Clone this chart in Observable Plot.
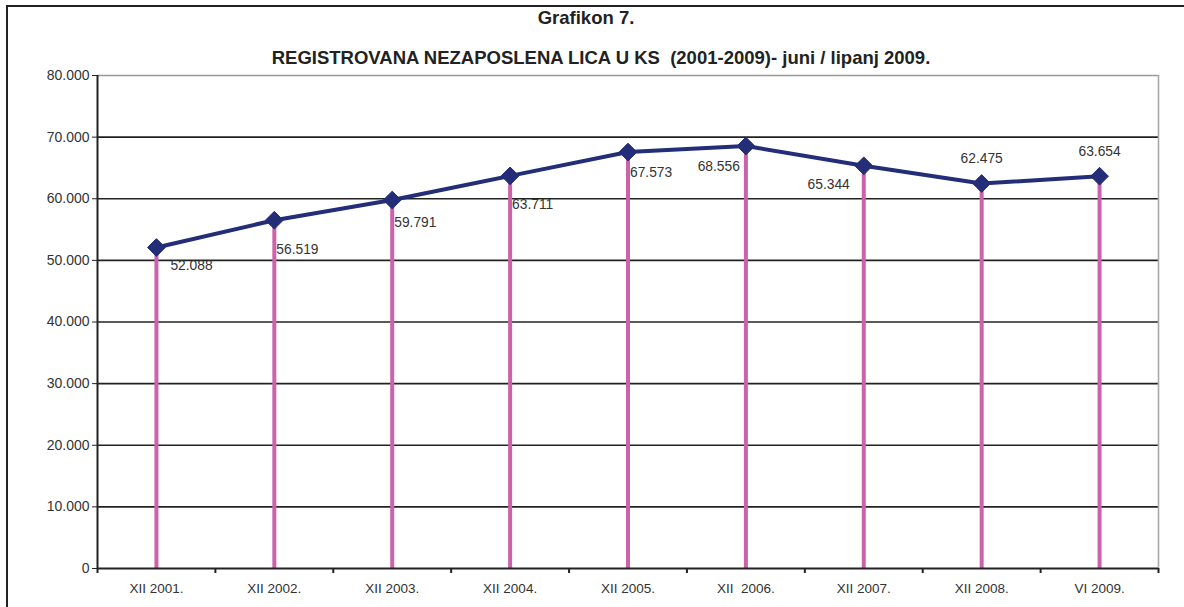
<!DOCTYPE html>
<html><head><meta charset="utf-8">
<script src="https://cdn.jsdelivr.net/npm/d3@7"></script>
<script src="https://cdn.jsdelivr.net/npm/@observablehq/plot@0.6"></script>
<style>
html,body{margin:0;padding:0;background:#fff;}
#wrap{position:relative;width:1184px;height:607px;overflow:hidden;font-family:"Liberation Sans",Arial,sans-serif;}
#frame{position:absolute;left:6px;top:5px;width:1200px;height:700px;border:2px solid #222;box-sizing:border-box;}
.t{position:absolute;width:1184px;text-align:center;font-weight:bold;font-size:18.5px;color:#222;}
#chart{position:absolute;left:0;top:0;}
</style></head>
<body>
<div id="wrap">
<div id="frame"></div>
<div class="t" style="top:7px;left:-6px">Grafikon 7.</div>
<div class="t" style="top:47px;left:9px">REGISTROVANA NEZAPOSLENA LICA U KS&nbsp; (2001-2009)- juni / lipanj 2009.</div>
<div id="chart"></div>
</div>
<script>
const categories = ["XII 2001.","XII 2002.","XII 2003.","XII 2004.","XII 2005.","XII  2006.","XII 2007.","XII 2008.","VI 2009."];
const values = [52088, 56519, 59791, 63711, 67573, 68556, 65344, 62475, 63654];
const yTicks = [0,10000,20000,30000,40000,50000,60000,70000,80000];

const data = categories.map((c,i)=>({i, c, v: values[i]}));
const fmt = v => v === 0 ? "0" : d3.format(",")(v).replace(/,/g, ".");
const idx = categories.map((_,i)=>i);
const bounds = d3.range(categories.length + 1).map(i => i - 0.5);

const labelGroups = [
  {ids:[0], dx:14, dy:18, anchor:"start"},
  {ids:[1,3], dx:2, dy:29, anchor:"start"},
  {ids:[2], dx:2, dy:23, anchor:"start"},
  {ids:[4], dx:2, dy:20, anchor:"start"},
  {ids:[5], dx:-6, dy:21, anchor:"end"},
  {ids:[6], dx:-14, dy:19, anchor:"end"},
  {ids:[7,8], dx:0, dy:-25, anchor:"middle"}
];

const plot = Plot.plot({
  width: 1184, height: 607,
  marginTop: 75, marginBottom: 39, marginLeft: 97, marginRight: 26,
  style: {fontFamily: "Liberation Sans, Arial, sans-serif", fontSize: "13px", color: "#333", background: "transparent", overflow: "visible"},
  x: {type: "linear", domain: [-0.5, categories.length - 0.5], axis: null},
  y: {domain: [0, 80000], axis: null},
  marks: [
    Plot.ruleY(yTicks.filter(t => t > 0 && t < 80000), {stroke: "#222", strokeWidth: 1.6}),
    Plot.ruleY([80000], {stroke: "#999", strokeWidth: 1.6}),
    Plot.ruleX([categories.length - 0.5], {stroke: "#aaa", strokeWidth: 1.6}),
    Plot.ruleX(data, {x: "i", y1: 0, y2: "v", stroke: "#cc62aa", strokeWidth: 4}),
    Plot.ruleX([-0.5], {stroke: "#222", strokeWidth: 2}),
    Plot.ruleY([0], {stroke: "#222", strokeWidth: 2}),
    Plot.axisY({ticks: yTicks, tickSize: 5, tickFormat: fmt, label: null, stroke: "#222", fill: "#333", fontSize: 14, tickPadding: 3}),
    Plot.axisX({ticks: bounds, tickSize: 5, tickFormat: () => "", label: null, stroke: "#222", strokeWidth: 2}),
    Plot.axisX({ticks: idx, tickSize: 0, tickPadding: 15, tickFormat: i => categories[i], label: null, fill: "#333", fontSize: 13.5}),
    Plot.line(data, {x: "i", y: "v", stroke: "#232d78", strokeWidth: 4}),
    Plot.dot(data, {x: "i", y: "v", symbol: "diamond2", r: 8, fill: "#232d78", stroke: "#232d78", strokeWidth: 1}),
    ...labelGroups.map(g => Plot.text(data.filter(d => g.ids.includes(d.i)), {
      x: "i", y: "v", text: d => fmt(d.v), dx: g.dx, dy: g.dy, textAnchor: g.anchor, fill: "#333", fontSize: 13.8
    }))
  ]
});
document.getElementById("chart").appendChild(plot);
</script>
</body></html>
